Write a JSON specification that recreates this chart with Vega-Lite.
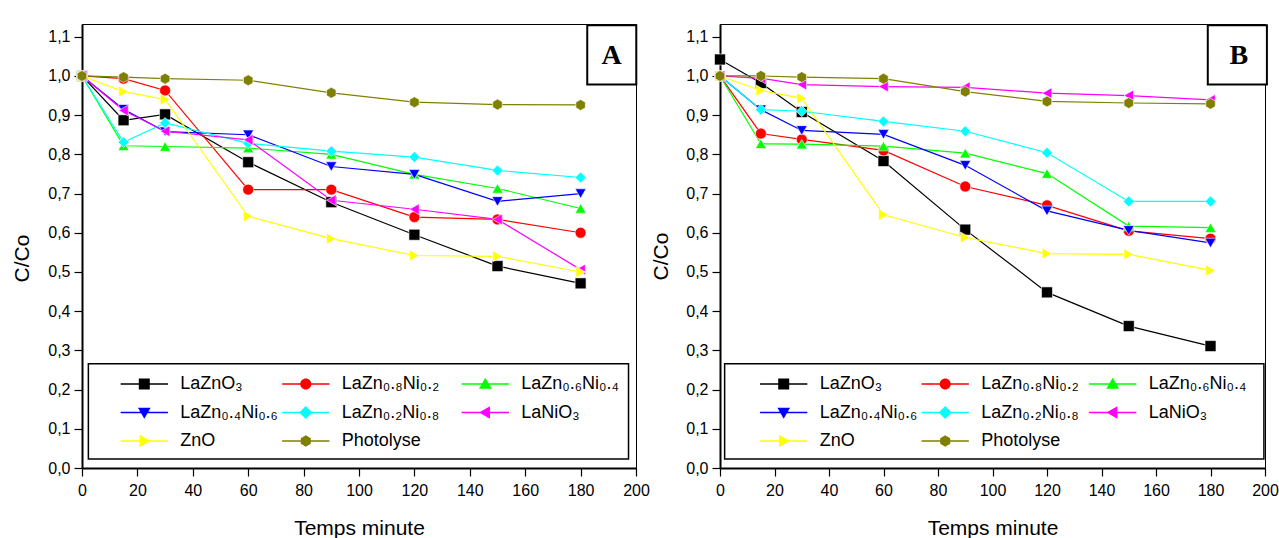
{
  "$schema": "https://vega.github.io/schema/vega-lite/v6.json",
  "padding": {"left": 10, "top": 23, "right": 10, "bottom": 2},
  "spacing": 84,
  "bounds": "flush",
  "config": {
    "view": {"stroke": "black", "strokeWidth": 1},
    "font": "Liberation Sans",
    "axis": {"grid": false, "domainColor": "black", "domainWidth": 2, "tickColor": "black", "tickWidth": 1.2, "tickSize": 8, "labelColor": "black", "labelFont": "Liberation Sans", "labelFontSize": 16, "titleFont": "Liberation Sans", "titleFontSize": 21, "titleFontWeight": "normal", "titleColor": "black", "labelOverlap": false, "labelFlush": false},
    "legend": {"labelFont": "Liberation Sans", "labelFontSize": 18, "labelColor": "black"}
  },
  "datasets": {
    "d": [
      {"panel":"A","series":"LaZnO₃","time":0,"value":1.0},{"panel":"A","series":"LaZnO₃","time":15,"value":0.887},{"panel":"A","series":"LaZnO₃","time":30,"value":0.902},{"panel":"A","series":"LaZnO₃","time":60,"value":0.780},{"panel":"A","series":"LaZnO₃","time":90,"value":0.678},{"panel":"A","series":"LaZnO₃","time":120,"value":0.595},{"panel":"A","series":"LaZnO₃","time":150,"value":0.515},{"panel":"A","series":"LaZnO₃","time":180,"value":0.471},
      {"panel":"A","series":"LaZn₀.₈Ni₀.₂","time":0,"value":1.0},{"panel":"A","series":"LaZn₀.₈Ni₀.₂","time":15,"value":0.993},{"panel":"A","series":"LaZn₀.₈Ni₀.₂","time":30,"value":0.963},{"panel":"A","series":"LaZn₀.₈Ni₀.₂","time":60,"value":0.710},{"panel":"A","series":"LaZn₀.₈Ni₀.₂","time":90,"value":0.710},{"panel":"A","series":"LaZn₀.₈Ni₀.₂","time":120,"value":0.640},{"panel":"A","series":"LaZn₀.₈Ni₀.₂","time":150,"value":0.634},{"panel":"A","series":"LaZn₀.₈Ni₀.₂","time":180,"value":0.600},
      {"panel":"A","series":"LaZn₀.₆Ni₀.₄","time":0,"value":1.0},{"panel":"A","series":"LaZn₀.₆Ni₀.₄","time":15,"value":0.822},{"panel":"A","series":"LaZn₀.₆Ni₀.₄","time":30,"value":0.820},{"panel":"A","series":"LaZn₀.₆Ni₀.₄","time":60,"value":0.816},{"panel":"A","series":"LaZn₀.₆Ni₀.₄","time":90,"value":0.800},{"panel":"A","series":"LaZn₀.₆Ni₀.₄","time":120,"value":0.749},{"panel":"A","series":"LaZn₀.₆Ni₀.₄","time":150,"value":0.713},{"panel":"A","series":"LaZn₀.₆Ni₀.₄","time":180,"value":0.662},
      {"panel":"A","series":"LaZn₀.₄Ni₀.₆","time":0,"value":1.0},{"panel":"A","series":"LaZn₀.₄Ni₀.₆","time":15,"value":0.915},{"panel":"A","series":"LaZn₀.₄Ni₀.₆","time":30,"value":0.858},{"panel":"A","series":"LaZn₀.₄Ni₀.₆","time":60,"value":0.850},{"panel":"A","series":"LaZn₀.₄Ni₀.₆","time":90,"value":0.769},{"panel":"A","series":"LaZn₀.₄Ni₀.₆","time":120,"value":0.749},{"panel":"A","series":"LaZn₀.₄Ni₀.₆","time":150,"value":0.680},{"panel":"A","series":"LaZn₀.₄Ni₀.₆","time":180,"value":0.700},
      {"panel":"A","series":"LaZn₀.₂Ni₀.₈","time":0,"value":1.0},{"panel":"A","series":"LaZn₀.₂Ni₀.₈","time":15,"value":0.831},{"panel":"A","series":"LaZn₀.₂Ni₀.₈","time":30,"value":0.880},{"panel":"A","series":"LaZn₀.₂Ni₀.₈","time":60,"value":0.828},{"panel":"A","series":"LaZn₀.₂Ni₀.₈","time":90,"value":0.808},{"panel":"A","series":"LaZn₀.₂Ni₀.₈","time":120,"value":0.793},{"panel":"A","series":"LaZn₀.₂Ni₀.₈","time":150,"value":0.759},{"panel":"A","series":"LaZn₀.₂Ni₀.₈","time":180,"value":0.741},
      {"panel":"A","series":"LaNiO₃","time":0,"value":1.0},{"panel":"A","series":"LaNiO₃","time":15,"value":0.912},{"panel":"A","series":"LaNiO₃","time":30,"value":0.859},{"panel":"A","series":"LaNiO₃","time":60,"value":0.837},{"panel":"A","series":"LaNiO₃","time":90,"value":0.683},{"panel":"A","series":"LaNiO₃","time":120,"value":0.660},{"panel":"A","series":"LaNiO₃","time":150,"value":0.634},{"panel":"A","series":"LaNiO₃","time":180,"value":0.506},
      {"panel":"A","series":"ZnO","time":0,"value":1.0},{"panel":"A","series":"ZnO","time":15,"value":0.960},{"panel":"A","series":"ZnO","time":30,"value":0.940},{"panel":"A","series":"ZnO","time":60,"value":0.642},{"panel":"A","series":"ZnO","time":90,"value":0.585},{"panel":"A","series":"ZnO","time":120,"value":0.542},{"panel":"A","series":"ZnO","time":150,"value":0.540},{"panel":"A","series":"ZnO","time":180,"value":0.500},
      {"panel":"A","series":"Photolyse","time":0,"value":1.0},{"panel":"A","series":"Photolyse","time":15,"value":0.997},{"panel":"A","series":"Photolyse","time":30,"value":0.993},{"panel":"A","series":"Photolyse","time":60,"value":0.989},{"panel":"A","series":"Photolyse","time":90,"value":0.957},{"panel":"A","series":"Photolyse","time":120,"value":0.933},{"panel":"A","series":"Photolyse","time":150,"value":0.927},{"panel":"A","series":"Photolyse","time":180,"value":0.926},
      {"panel":"B","series":"LaZnO₃","time":0,"value":1.042},{"panel":"B","series":"LaZnO₃","time":15,"value":0.982},{"panel":"B","series":"LaZnO₃","time":30,"value":0.908},{"panel":"B","series":"LaZnO₃","time":60,"value":0.783},{"panel":"B","series":"LaZnO₃","time":90,"value":0.608},{"panel":"B","series":"LaZnO₃","time":120,"value":0.448},{"panel":"B","series":"LaZnO₃","time":150,"value":0.362},{"panel":"B","series":"LaZnO₃","time":180,"value":0.311},
      {"panel":"B","series":"LaZn₀.₈Ni₀.₂","time":0,"value":1.0},{"panel":"B","series":"LaZn₀.₈Ni₀.₂","time":15,"value":0.853},{"panel":"B","series":"LaZn₀.₈Ni₀.₂","time":30,"value":0.838},{"panel":"B","series":"LaZn₀.₈Ni₀.₂","time":60,"value":0.810},{"panel":"B","series":"LaZn₀.₈Ni₀.₂","time":90,"value":0.718},{"panel":"B","series":"LaZn₀.₈Ni₀.₂","time":120,"value":0.670},{"panel":"B","series":"LaZn₀.₈Ni₀.₂","time":150,"value":0.605},{"panel":"B","series":"LaZn₀.₈Ni₀.₂","time":180,"value":0.585},
      {"panel":"B","series":"LaZn₀.₆Ni₀.₄","time":0,"value":1.0},{"panel":"B","series":"LaZn₀.₆Ni₀.₄","time":15,"value":0.827},{"panel":"B","series":"LaZn₀.₆Ni₀.₄","time":30,"value":0.826},{"panel":"B","series":"LaZn₀.₆Ni₀.₄","time":60,"value":0.821},{"panel":"B","series":"LaZn₀.₆Ni₀.₄","time":90,"value":0.803},{"panel":"B","series":"LaZn₀.₆Ni₀.₄","time":120,"value":0.751},{"panel":"B","series":"LaZn₀.₆Ni₀.₄","time":150,"value":0.617},{"panel":"B","series":"LaZn₀.₆Ni₀.₄","time":180,"value":0.613},
      {"panel":"B","series":"LaZn₀.₄Ni₀.₆","time":0,"value":1.0},{"panel":"B","series":"LaZn₀.₄Ni₀.₆","time":15,"value":0.914},{"panel":"B","series":"LaZn₀.₄Ni₀.₆","time":30,"value":0.861},{"panel":"B","series":"LaZn₀.₄Ni₀.₆","time":60,"value":0.851},{"panel":"B","series":"LaZn₀.₄Ni₀.₆","time":90,"value":0.772},{"panel":"B","series":"LaZn₀.₄Ni₀.₆","time":120,"value":0.656},{"panel":"B","series":"LaZn₀.₄Ni₀.₆","time":150,"value":0.606},{"panel":"B","series":"LaZn₀.₄Ni₀.₆","time":180,"value":0.574},
      {"panel":"B","series":"LaZn₀.₂Ni₀.₈","time":0,"value":1.0},{"panel":"B","series":"LaZn₀.₂Ni₀.₈","time":15,"value":0.914},{"panel":"B","series":"LaZn₀.₂Ni₀.₈","time":30,"value":0.910},{"panel":"B","series":"LaZn₀.₂Ni₀.₈","time":60,"value":0.884},{"panel":"B","series":"LaZn₀.₂Ni₀.₈","time":90,"value":0.859},{"panel":"B","series":"LaZn₀.₂Ni₀.₈","time":120,"value":0.804},{"panel":"B","series":"LaZn₀.₂Ni₀.₈","time":150,"value":0.680},{"panel":"B","series":"LaZn₀.₂Ni₀.₈","time":180,"value":0.680},
      {"panel":"B","series":"LaNiO₃","time":0,"value":1.0},{"panel":"B","series":"LaNiO₃","time":15,"value":0.994},{"panel":"B","series":"LaNiO₃","time":30,"value":0.978},{"panel":"B","series":"LaNiO₃","time":60,"value":0.973},{"panel":"B","series":"LaNiO₃","time":90,"value":0.971},{"panel":"B","series":"LaNiO₃","time":120,"value":0.956},{"panel":"B","series":"LaNiO₃","time":150,"value":0.950},{"panel":"B","series":"LaNiO₃","time":180,"value":0.939},
      {"panel":"B","series":"ZnO","time":0,"value":1.0},{"panel":"B","series":"ZnO","time":15,"value":0.963},{"panel":"B","series":"ZnO","time":30,"value":0.943},{"panel":"B","series":"ZnO","time":60,"value":0.646},{"panel":"B","series":"ZnO","time":90,"value":0.588},{"panel":"B","series":"ZnO","time":120,"value":0.547},{"panel":"B","series":"ZnO","time":150,"value":0.545},{"panel":"B","series":"ZnO","time":180,"value":0.504},
      {"panel":"B","series":"Photolyse","time":0,"value":1.0},{"panel":"B","series":"Photolyse","time":15,"value":1.0},{"panel":"B","series":"Photolyse","time":30,"value":0.997},{"panel":"B","series":"Photolyse","time":60,"value":0.993},{"panel":"B","series":"Photolyse","time":90,"value":0.960},{"panel":"B","series":"Photolyse","time":120,"value":0.935},{"panel":"B","series":"Photolyse","time":150,"value":0.931},{"panel":"B","series":"Photolyse","time":180,"value":0.929}
    ]
  },
  "resolve": {"scale": {"color": "independent", "shape": "independent"}, "legend": {"color": "independent", "shape": "independent"}},
  "hconcat": [
    {
      "width": 554, "height": 444,
      "resolve": {"scale": {"color": "independent", "shape": "independent"}},
      "layer": [
        {
          "data": {"name": "d"},
          "transform": [{"filter": "datum.panel == 'A'"}],
          "mark": {"type": "line", "strokeWidth": 1.2},
          "encoding": {
            "x": {"field": "time", "type": "quantitative", "title": "Temps minute", "scale": {"domain": [0, 200], "nice": false, "zero": false},
              "axis": {"title": "Temps minute", "values": [0,10,20,30,40,50,60,70,80,90,100,110,120,130,140,150,160,170,180,190,200], "labelExpr": "datum.value % 20 == 0 ? datum.label : ''", "labelPadding": 6, "titleY": 49, "encode": {"ticks": {"update": {"y2": {"signal": "datum.value % 20 == 0 ? 8 : 4"}}}}}},
            "y": {"field": "value", "type": "quantitative", "title": "C/Co", "scale": {"domain": [0, 1.1325], "nice": false, "zero": false},
              "axis": {"title": "C/Co", "values": [0,0.05,0.1,0.15,0.2,0.25,0.3,0.35,0.4,0.45,0.5,0.55,0.6,0.65,0.7,0.75,0.8,0.85,0.9,0.95,1,1.05,1.1], "labelExpr": "round(datum.value*100) % 10 == 0 ? replace(format(datum.value, '.1f'), '.', ',') : ''", "labelPadding": 4, "titleX": -50, "titleY": 234, "encode": {"ticks": {"update": {"x2": {"signal": "round(datum.value*100) % 10 == 0 ? -8 : -4"}}}}}},
            "color": {"field": "series", "type": "nominal", "legend": null, "scale": {"domain": ["LaZnO₃","LaZn₀.₈Ni₀.₂","LaZn₀.₆Ni₀.₄","LaZn₀.₄Ni₀.₆","LaZn₀.₂Ni₀.₈","LaNiO₃","ZnO","Photolyse"], "range": ["#000000","#FF0000","#00FF00","#0000FF","#00FFFF","#FF00FF","#FFFF00","#808000"]}}
          }
        },
        {
          "data": {"name": "d"},
          "transform": [{"filter": "datum.panel == 'A'"}],
          "mark": {"type": "point", "filled": true, "opacity": 1, "size": 120, "stroke": "white", "strokeWidth": 0.6},
          "encoding": {
            "x": {"field": "time", "type": "quantitative", "title": "Temps minute"},
            "y": {"field": "value", "type": "quantitative", "title": "C/Co"},
            "color": {"field": "series", "type": "nominal", "legend": null, "scale": {"domain": ["LaZnO₃","LaZn₀.₈Ni₀.₂","LaZn₀.₆Ni₀.₄","LaZn₀.₄Ni₀.₆","LaZn₀.₂Ni₀.₈","LaNiO₃","ZnO","Photolyse"], "range": ["#000000","#FF0000","#00FF00","#0000FF","#00FFFF","#FF00FF","#FFFF00","#808000"]}},
            "shape": {"field": "series", "type": "nominal", "legend": null, "scale": {"domain": ["LaZnO₃","LaZn₀.₈Ni₀.₂","LaZn₀.₆Ni₀.₄","LaZn₀.₄Ni₀.₆","LaZn₀.₂Ni₀.₈","LaNiO₃","ZnO","Photolyse"], "range": ["square","circle","triangle-up","triangle-down","diamond","triangle-left","triangle-right","M0,-1L0.866,-0.5L0.866,0.5L0,1L-0.866,0.5L-0.866,-0.5Z"]}}
          }
        },
        {
          "data": {"values": [{"label": "box"}]},
          "mark": {"type": "rect", "fill": "white", "stroke": "black", "strokeWidth": 1.5},
          "encoding": {"x": {"datum": 2.3, "axis": {"title": "Temps minute"}}, "x2": {"datum": 197.3}, "y": {"datum": 0.266, "axis": {"title": "C/Co"}}, "y2": {"datum": 0.023}}
        },
        {
          "data": {"name": "d"},
          "transform": [{"filter": "datum.panel == 'Z'"}],
          "mark": {"type": "point", "filled": true, "opacity": 1, "size": 121},
          "encoding": {
            "x": {"field": "time", "type": "quantitative", "title": "Temps minute"},
            "y": {"field": "value", "type": "quantitative", "title": "C/Co"},
            "color": {"field": "series", "type": "nominal", "scale": {"domain": ["LaZnO₃","LaZn₀.₈Ni₀.₂","LaZn₀.₆Ni₀.₄","LaZn₀.₄Ni₀.₆","LaZn₀.₂Ni₀.₈","LaNiO₃","ZnO","Photolyse"], "range": ["#000000","#FF0000","#00FF00","#0000FF","#00FFFF","#FF00FF","#FFFF00","#808000"]},
              "legend": {"title": null, "orient": "none", "direction": "horizontal", "legendX": 53.3, "legendY": 351, "columns": 3, "padding": 0, "symbolSize": 121, "labelOffset": 27, "columnPadding": 3.5, "rowPadding": 10.5, "symbolStrokeWidth": 0}},
            "shape": {"field": "series", "type": "nominal", "scale": {"domain": ["LaZnO₃","LaZn₀.₈Ni₀.₂","LaZn₀.₆Ni₀.₄","LaZn₀.₄Ni₀.₆","LaZn₀.₂Ni₀.₈","LaNiO₃","ZnO","Photolyse"], "range": [
              "M-4.3,-0.13H4.3V0.13H-4.3ZM-1,-1H1V1H-1Z",
              "M-4.3,-0.13H4.3V0.13H-4.3ZM1,0A1,1 0 1,1 -1,0A1,1 0 1,1 1,0Z",
              "M-7.6,0M-4.3,-0.13H4.3V0.13H-4.3ZM0,-1.15L1.15,0.85L-1.15,0.85Z",
              "M-4.3,-0.13H4.3V0.13H-4.3ZM-1.15,-0.85L1.15,-0.85L0,1.15Z",
              "M-4.3,-0.13H4.3V0.13H-4.3ZM0,-1.2L1.2,0L0,1.2L-1.2,0Z",
              "M-7.6,0M-4.3,-0.13H4.3V0.13H-4.3ZM-1.15,0L0.85,-1.15L0.85,1.15Z",
              "M-4.3,-0.13H4.3V0.13H-4.3ZM1.15,0L-0.85,1.15L-0.85,-1.15Z",
              "M-4.3,-0.13H4.3V0.13H-4.3ZM0,-1.05L0.91,-0.52L0.91,0.52L0,1.05L-0.91,0.52L-0.91,-0.52Z"]},
              "legend": {"title": null, "orient": "none", "direction": "horizontal", "legendX": 53.3, "legendY": 351, "columns": 3, "padding": 0, "symbolSize": 121, "labelOffset": 27, "columnPadding": 3.5, "rowPadding": 10.5, "symbolStrokeWidth": 0}}
          }
        },
        {
          "data": {"values": [{"label": "A"}]},
          "mark": {"type": "rect", "fill": "white", "stroke": "black", "strokeWidth": 2},
          "encoding": {"x": {"datum": 182.4, "axis": {"title": "Temps minute"}}, "x2": {"datum": 200.1}, "y": {"datum": 1.129, "axis": {"title": "C/Co"}}, "y2": {"datum": 0.978}}
        },
        {
          "data": {"values": [{"label": "A"}]},
          "mark": {"type": "text", "font": "Liberation Serif", "fontWeight": "bold", "fontSize": 28, "color": "black"},
          "encoding": {"x": {"datum": 191.2, "axis": {"title": "Temps minute"}}, "y": {"datum": 1.05, "axis": {"title": "C/Co"}}, "text": {"field": "label"}}
        }
      ]
    },
    {
      "width": 545, "height": 444,
      "resolve": {"scale": {"color": "independent", "shape": "independent"}},
      "layer": [
        {
          "data": {"name": "d"},
          "transform": [{"filter": "datum.panel == 'B'"}],
          "mark": {"type": "line", "strokeWidth": 1.2},
          "encoding": {
            "x": {"field": "time", "type": "quantitative", "title": "Temps minute", "scale": {"domain": [0, 200], "nice": false, "zero": false},
              "axis": {"title": "Temps minute", "values": [0,10,20,30,40,50,60,70,80,90,100,110,120,130,140,150,160,170,180,190,200], "labelExpr": "datum.value % 20 == 0 ? datum.label : ''", "labelPadding": 6, "titleY": 49, "encode": {"ticks": {"update": {"y2": {"signal": "datum.value % 20 == 0 ? 8 : 4"}}}}}},
            "y": {"field": "value", "type": "quantitative", "title": "C/Co", "scale": {"domain": [0, 1.1325], "nice": false, "zero": false},
              "axis": {"title": "C/Co", "values": [0,0.05,0.1,0.15,0.2,0.25,0.3,0.35,0.4,0.45,0.5,0.55,0.6,0.65,0.7,0.75,0.8,0.85,0.9,0.95,1,1.05,1.1], "labelExpr": "round(datum.value*100) % 10 == 0 ? replace(format(datum.value, '.1f'), '.', ',') : ''", "labelPadding": 4, "titleX": -49, "titleY": 232, "encode": {"ticks": {"update": {"x2": {"signal": "round(datum.value*100) % 10 == 0 ? -8 : -4"}}}}}},
            "color": {"field": "series", "type": "nominal", "legend": null, "scale": {"domain": ["LaZnO₃","LaZn₀.₈Ni₀.₂","LaZn₀.₆Ni₀.₄","LaZn₀.₄Ni₀.₆","LaZn₀.₂Ni₀.₈","LaNiO₃","ZnO","Photolyse"], "range": ["#000000","#FF0000","#00FF00","#0000FF","#00FFFF","#FF00FF","#FFFF00","#808000"]}}
          }
        },
        {
          "data": {"name": "d"},
          "transform": [{"filter": "datum.panel == 'B'"}],
          "mark": {"type": "point", "filled": true, "opacity": 1, "size": 120, "stroke": "white", "strokeWidth": 0.6},
          "encoding": {
            "x": {"field": "time", "type": "quantitative", "title": "Temps minute"},
            "y": {"field": "value", "type": "quantitative", "title": "C/Co"},
            "color": {"field": "series", "type": "nominal", "legend": null, "scale": {"domain": ["LaZnO₃","LaZn₀.₈Ni₀.₂","LaZn₀.₆Ni₀.₄","LaZn₀.₄Ni₀.₆","LaZn₀.₂Ni₀.₈","LaNiO₃","ZnO","Photolyse"], "range": ["#000000","#FF0000","#00FF00","#0000FF","#00FFFF","#FF00FF","#FFFF00","#808000"]}},
            "shape": {"field": "series", "type": "nominal", "legend": null, "scale": {"domain": ["LaZnO₃","LaZn₀.₈Ni₀.₂","LaZn₀.₆Ni₀.₄","LaZn₀.₄Ni₀.₆","LaZn₀.₂Ni₀.₈","LaNiO₃","ZnO","Photolyse"], "range": ["square","circle","triangle-up","triangle-down","diamond","triangle-left","triangle-right","M0,-1L0.866,-0.5L0.866,0.5L0,1L-0.866,0.5L-0.866,-0.5Z"]}}
          }
        },
        {
          "data": {"values": [{"label": "box"}]},
          "mark": {"type": "rect", "fill": "white", "stroke": "black", "strokeWidth": 1.5},
          "encoding": {"x": {"datum": 1.7, "axis": {"title": "Temps minute"}}, "x2": {"datum": 199.6}, "y": {"datum": 0.266, "axis": {"title": "C/Co"}}, "y2": {"datum": 0.023}}
        },
        {
          "data": {"name": "d"},
          "transform": [{"filter": "datum.panel == 'Z'"}],
          "mark": {"type": "point", "filled": true, "opacity": 1, "size": 121},
          "encoding": {
            "x": {"field": "time", "type": "quantitative", "title": "Temps minute"},
            "y": {"field": "value", "type": "quantitative", "title": "C/Co"},
            "color": {"field": "series", "type": "nominal", "scale": {"domain": ["LaZnO₃","LaZn₀.₈Ni₀.₂","LaZn₀.₆Ni₀.₄","LaZn₀.₄Ni₀.₆","LaZn₀.₂Ni₀.₈","LaNiO₃","ZnO","Photolyse"], "range": ["#000000","#FF0000","#00FF00","#0000FF","#00FFFF","#FF00FF","#FFFF00","#808000"]},
              "legend": {"title": null, "orient": "none", "direction": "horizontal", "legendX": 54.7, "legendY": 351, "columns": 3, "padding": 0, "symbolSize": 121, "labelOffset": 27, "columnPadding": 3.5, "rowPadding": 10.5, "symbolStrokeWidth": 0}},
            "shape": {"field": "series", "type": "nominal", "scale": {"domain": ["LaZnO₃","LaZn₀.₈Ni₀.₂","LaZn₀.₆Ni₀.₄","LaZn₀.₄Ni₀.₆","LaZn₀.₂Ni₀.₈","LaNiO₃","ZnO","Photolyse"], "range": [
              "M-4.3,-0.13H4.3V0.13H-4.3ZM-1,-1H1V1H-1Z",
              "M-4.3,-0.13H4.3V0.13H-4.3ZM1,0A1,1 0 1,1 -1,0A1,1 0 1,1 1,0Z",
              "M-5.3,0M-4.3,-0.13H4.3V0.13H-4.3ZM0,-1.15L1.15,0.85L-1.15,0.85Z",
              "M-4.3,-0.13H4.3V0.13H-4.3ZM-1.15,-0.85L1.15,-0.85L0,1.15Z",
              "M-4.3,-0.13H4.3V0.13H-4.3ZM0,-1.2L1.2,0L0,1.2L-1.2,0Z",
              "M-5.3,0M-4.3,-0.13H4.3V0.13H-4.3ZM-1.15,0L0.85,-1.15L0.85,1.15Z",
              "M-4.3,-0.13H4.3V0.13H-4.3ZM1.15,0L-0.85,1.15L-0.85,-1.15Z",
              "M-4.3,-0.13H4.3V0.13H-4.3ZM0,-1.05L0.91,-0.52L0.91,0.52L0,1.05L-0.91,0.52L-0.91,-0.52Z"]},
              "legend": {"title": null, "orient": "none", "direction": "horizontal", "legendX": 54.7, "legendY": 351, "columns": 3, "padding": 0, "symbolSize": 121, "labelOffset": 27, "columnPadding": 3.5, "rowPadding": 10.5, "symbolStrokeWidth": 0}}
          }
        },
        {
          "data": {"values": [{"label": "B"}]},
          "mark": {"type": "rect", "fill": "white", "stroke": "black", "strokeWidth": 2},
          "encoding": {"x": {"datum": 179, "axis": {"title": "Temps minute"}}, "x2": {"datum": 200.7}, "y": {"datum": 1.129, "axis": {"title": "C/Co"}}, "y2": {"datum": 0.978}}
        },
        {
          "data": {"values": [{"label": "B"}]},
          "mark": {"type": "text", "font": "Liberation Serif", "fontWeight": "bold", "fontSize": 28, "color": "black"},
          "encoding": {"x": {"datum": 190.4, "axis": {"title": "Temps minute"}}, "y": {"datum": 1.05, "axis": {"title": "C/Co"}}, "text": {"field": "label"}}
        }
      ]
    }
  ]
}
